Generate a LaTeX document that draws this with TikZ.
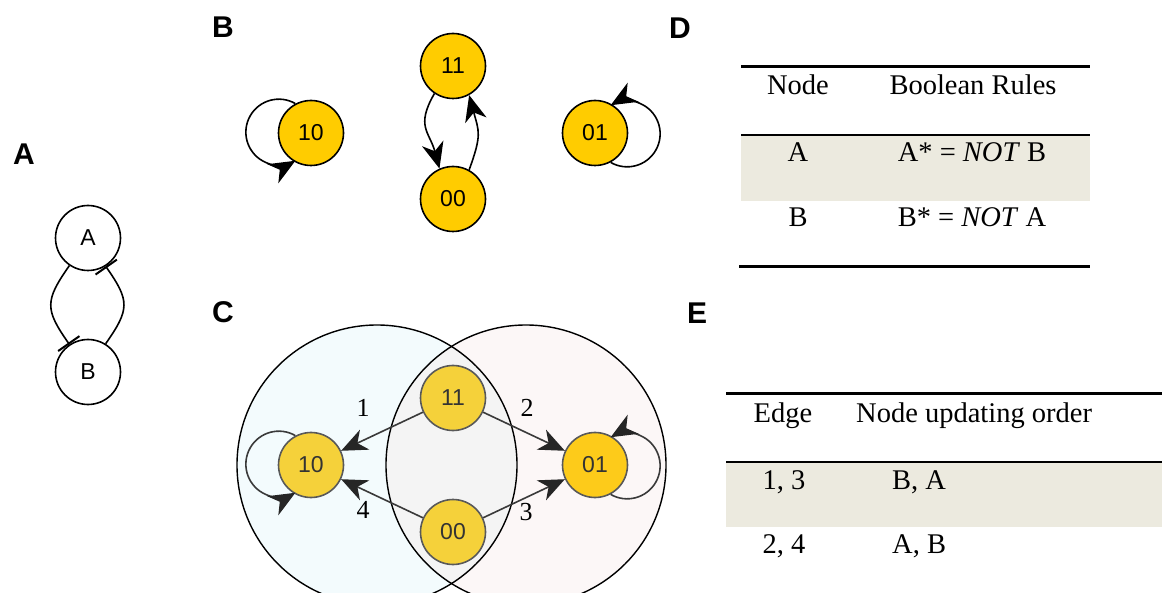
\documentclass[tikz,border=0pt]{standalone}
\usepackage{fontspec}
\setmainfont{Liberation Serif}
\setsansfont{Liberation Sans}
\usetikzlibrary{arrows.meta}

\definecolor{gold}{HTML}{FFCC00}
\definecolor{goldC}{HTML}{F5D13A}
\definecolor{goldD}{HTML}{FDCB1A}
\definecolor{leftfill}{HTML}{F3FBFD}
\definecolor{rightfill}{HTML}{FCF7F7}
\definecolor{midfill}{HTML}{F4F4F4}
\definecolor{rowshade}{HTML}{ECEADF}
\definecolor{edgegray}{HTML}{3A3A3A}

\begin{document}
\begin{tikzpicture}[x=1pt,y=1pt,
  panel/.style={font=\sffamily\bfseries\fontsize{30}{30}\selectfont,inner sep=0pt},
  genenode/.style={circle,draw,line width=1.6pt,minimum size=65pt,inner sep=0pt,
                   font=\sffamily\fontsize{23}{23}\selectfont},
  state/.style={genenode,fill=gold},
  stateC/.style={genenode,fill=goldC,draw=black!65,text=black!80},
  arr/.style={line width=1.6pt,-{Stealth[length=26pt,width=22pt,inset=8pt]}},
  arrC/.style={line width=1.6pt,draw=edgegray,
               -{Stealth[length=26pt,width=22pt,inset=8pt,color=black!85]}},
  inh/.style={line width=1.6pt,-{Bar[width=26pt,line width=2pt]}},
  tab/.style={font=\fontsize{28.5}{28.5}\selectfont,anchor=base,inner sep=0pt},
  edgelab/.style={font=\fontsize{26}{26}\selectfont,inner sep=0pt},
]
\useasboundingbox (0,0) rectangle (1162,-593);

% ---- panel C: overlapping update regions ----
\begin{scope}
  \clip (0,0) rectangle (1162,-593);
  \fill[leftfill]  (377,-465) circle[radius=140];
  \fill[rightfill] (526,-465) circle[radius=140];
  \begin{scope}
    \clip (377,-465) circle[radius=140];
    \fill[midfill] (526,-465) circle[radius=140];
  \end{scope}
  \draw[line width=1.4pt] (377,-465) circle[radius=140];
  \draw[line width=1.4pt] (526,-465) circle[radius=140];
\end{scope}

% ---- panel letters ----
\node[panel] (labA) at (24,-154) {A};
\node[panel] (labB) at (223,-27) {B};
\node[panel] (labC) at (223,-312) {C};
\node[panel] (labD) at (680,-28) {D};
\node[panel] (labE) at (697,-313) {E};

% ---- panel A: mutual inhibition ----
\node[genenode] (gA) at (88,-238) {A};
\node[genenode] (gB) at (88,-372) {B};
\draw[inh] (gA.236) to[out=235,in=125,looseness=1.4] (gB.124);
\draw[inh] (gB.58) to[out=55,in=-55,looseness=1.4] (gA.-58);

% ---- panel B: synchronous state transition graph ----
\node[state] (b11) at (453,-66) {11};
\node[state] (b10) at (311,-133) {10};
\node[state] (b00) at (453,-199) {00};
\node[state] (b01) at (595,-133) {01};
\draw[arr] (b10.118) arc[start angle=60,end angle=300,radius=33];
\draw[arr] (b01.-62) arc[start angle=-120,end angle=120,radius=33];
\draw[arr] (b11.236) to[out=240,in=105,looseness=1.3] (b00.114);
\draw[arr] (b00.61) to[out=70,in=-75,looseness=1.3] (b11.-61);

% ---- panel C: asynchronous state transition graph ----
\node[stateC] (c11) at (453,-398) {11};
\node[stateC] (c10) at (311,-465) {10};
\node[stateC] (c00) at (453,-532) {00};
\node[stateC,fill=goldD] (c01) at (595,-465) {01};
\draw[arrC] (c10.118) arc[start angle=60,end angle=300,radius=33];
\draw[arrC] (c01.-62) arc[start angle=-120,end angle=120,radius=33];
\draw[arrC] (c11) -- (c10);
\draw[arrC] (c11) -- (c01);
\draw[arrC] (c00) -- (c10);
\draw[arrC] (c00) -- (c01);
\node[edgelab] (e1) at (363,-408) {1};
\node[edgelab] (e2) at (527,-408) {2};
\node[edgelab] (e3) at (526,-512) {3};
\node[edgelab] (e4) at (363,-510) {4};

% ---- panel D: Boolean rules table ----
\fill[rowshade] (741,-135) rectangle (1090,-201);
\draw[line width=3pt] (741,-67) -- (1090,-67);
\draw[line width=2pt] (741,-135) -- (1090,-135);
\draw[line width=3pt] (739,-267) -- (1090,-267);
\node[tab] (dh1) at (798,-95) {Node};
\node[tab] (dh2) at (973,-95) {Boolean Rules};
\node[tab] (dr1) at (798,-162) {A};
\node[tab] (dr2) at (972,-162) {A* = \textit{NOT} B};
\node[tab] (dr3) at (798,-227) {B};
\node[tab] (dr4) at (972,-227) {B* = \textit{NOT} A};

% ---- panel E: updating order table ----
\fill[rowshade] (726,-462) rectangle (1162,-527);
\draw[line width=3pt] (726,-394) -- (1162,-394);
\draw[line width=2pt] (726,-462) -- (1162,-462);
\node[tab] (eh1) at (783,-422) {Edge};
\node[tab,anchor=base west] (eh2) at (856,-422) {Node updating order};
\node[tab] (er1) at (784,-489) {1, 3};
\node[tab,anchor=base west] (er2) at (892,-489) {B, A};
\node[tab] (er3) at (784,-553) {2, 4};
\node[tab,anchor=base west] (er4) at (892,-553) {A, B};
\end{tikzpicture}
\end{document}
